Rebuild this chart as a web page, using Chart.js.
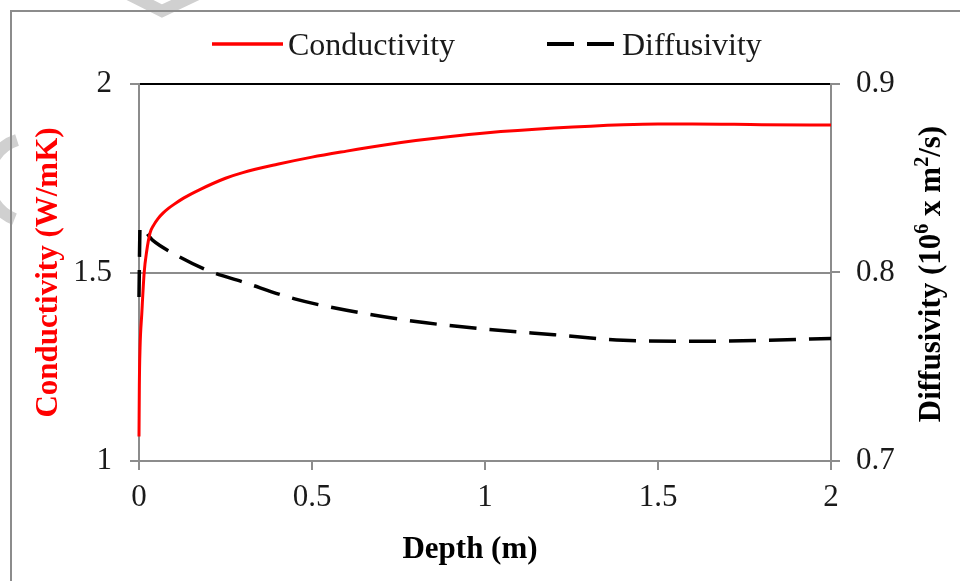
<!DOCTYPE html>
<html>
<head>
  <title>Conductivity and Diffusivity vs Depth</title>
  <script src="https://cdn.jsdelivr.net/npm/chart.js"></script>
  <style>
    html, body { margin: 0; padding: 0; background: #fff; }
  </style>
</head>
<body>
  <canvas id="myChart" width="960" height="581"></canvas>
  <script>
    // conductivity profile (W/mK) against depth (m)
    const depthCond = [0, 0.001, 0.003, 0.008, 0.015, 0.022, 0.032, 0.042, 0.055, 0.07, 0.085, 0.1, 0.13, 0.176, 0.25, 0.3, 0.4, 0.5, 0.6, 0.7, 0.8, 0.9, 1.0, 1.2, 1.4, 1.5, 1.6, 1.8, 2.0];
    const conductivity = [1.065, 1.2, 1.3, 1.39, 1.5, 1.555, 1.605, 1.625, 1.643, 1.658, 1.67, 1.68, 1.698, 1.72, 1.75, 1.765, 1.787, 1.806, 1.822, 1.837, 1.85, 1.861, 1.87, 1.883, 1.892, 1.894, 1.894, 1.892, 1.891];

    // diffusivity profile (10^6 x m2/s) against depth (m)
    const depthDiff = [0, 0.003, 0.04, 0.1, 0.2, 0.3, 0.45, 0.6, 0.8, 1.0, 1.2, 1.4, 1.6, 1.8, 2.0];
    const diffusivity = [0.787, 0.824, 0.817, 0.81, 0.801, 0.795, 0.786, 0.78, 0.774, 0.77, 0.767, 0.764, 0.7635, 0.764, 0.765];

    const depthTicks = [0, 0.5, 1, 1.5, 2];
    const condTicks = [1, 1.5, 2];
    const diffTicks = [0.7, 0.8, 0.9];

    const serif = "'Liberation Serif', 'Times New Roman', serif";
    const axisGrey = '#8c8c8c';
    const textColor = '#1a1a1a';

    const toPoints = (xs, ys) => xs.map((x, i) => ({ x: x, y: ys[i] }));
    const fixedTicks = list => scale => { scale.ticks = list.map(v => ({ value: v })); };

    // frame, hand-drawn legend and the captions Chart.js can't place the same way
    const decorations = {
      id: 'decorations',
      beforeDraw(chart) {
        const ctx = chart.ctx;
        ctx.save();
        ctx.fillStyle = '#fff';
        ctx.fillRect(0, 0, chart.width, chart.height);
        // faint grey marks along the page edge
        ctx.strokeStyle = '#d0d0d0';
        ctx.lineWidth = 12;
        ctx.beginPath();
        ctx.moveTo(128, -6); ctx.lineTo(162, 11); ctx.lineTo(198, -6);
        ctx.stroke();
        ctx.beginPath();
        ctx.arc(30, 180, 42, 0.62 * Math.PI, 1.4 * Math.PI);
        ctx.stroke();
        // outer chart frame
        ctx.strokeStyle = axisGrey;
        ctx.lineWidth = 2;
        ctx.strokeRect(11, 11, chart.width + 20, chart.height + 20);
        ctx.restore();
      },
      afterDraw(chart) {
        const ctx = chart.ctx;
        ctx.save();

        // legend
        const slots = [{ x: 212, w: 71 }, { x: 547, w: 70 }];
        ctx.font = '32px ' + serif;
        ctx.textBaseline = 'alphabetic';
        chart.data.datasets.forEach((ds, i) => {
          const s = slots[i];
          ctx.strokeStyle = ds.borderColor;
          ctx.lineWidth = ds.borderWidth + 0.5;
          ctx.setLineDash(ds.borderDash || []);
          ctx.beginPath();
          ctx.moveTo(s.x, 44);
          ctx.lineTo(s.x + s.w, 44);
          ctx.stroke();
          ctx.setLineDash([]);
          ctx.fillStyle = textColor;
          ctx.fillText(ds.label, s.x + s.w + 5, 55);
        });

        // x axis caption
        ctx.font = 'bold 31px ' + serif;
        ctx.fillStyle = '#000';
        ctx.textAlign = 'center';
        ctx.fillText('Depth (m)', 470, 558);

        // right axis caption, read bottom to top, with superscripts
        const parts = [['Diffusivity (10', false], ['6', true], [' x m', false], ['2', true], ['/s)', false]];
        const big = 'bold 31px ' + serif;
        const small = 'bold 20px ' + serif;
        let total = 0;
        parts.forEach(p => { ctx.font = p[1] ? small : big; total += ctx.measureText(p[0]).width; });
        ctx.translate(940, 274);
        ctx.rotate(-Math.PI / 2);
        ctx.textAlign = 'left';
        let x = -total / 2;
        parts.forEach(p => {
          ctx.font = p[1] ? small : big;
          ctx.fillText(p[0], x, p[1] ? -12 : 0);
          x += ctx.measureText(p[0]).width;
        });
        ctx.restore();
      }
    };

    const chartConfig = {
      type: 'line',
      data: {
        datasets: [
          {
            label: 'Conductivity',
            data: toPoints(depthCond, conductivity),
            yAxisID: 'y',
            borderColor: '#ff0000',
            borderWidth: 3,
            pointRadius: 0,
            cubicInterpolationMode: 'monotone',
            clip: 4
          },
          {
            label: 'Diffusivity',
            data: toPoints(depthDiff, diffusivity),
            yAxisID: 'y1',
            borderColor: '#000000',
            borderWidth: 3.5,
            borderDash: [27, 13],
            pointRadius: 0,
            cubicInterpolationMode: 'monotone',
            clip: 4
          }
        ]
      },
      options: {
        responsive: false,
        animation: false,
        devicePixelRatio: 1,
        layout: { padding: { top: 84, left: 0, right: 0, bottom: 0 } },
        plugins: {
          legend: { display: false },
          tooltip: { enabled: false }
        },
        scales: {
          x: {
            type: 'linear',
            min: 0,
            max: 2,
            afterBuildTicks: fixedTicks(depthTicks),
            afterFit: scale => { scale.height = 120; },
            grid: { drawOnChartArea: false, color: axisGrey, lineWidth: 2, tickLength: 9 },
            border: { color: axisGrey, width: 2 },
            ticks: {
              padding: 9,
              color: textColor,
              font: { family: serif, size: 31 },
              callback: v => String(v)
            }
          },
          y: {
            position: 'left',
            min: 1,
            max: 2,
            afterBuildTicks: fixedTicks(condTicks),
            afterFit: scale => { scale.width = 139; },
            grid: {
              color: ctx => (ctx.tick && ctx.tick.value === 2 ? '#000' : axisGrey),
              tickColor: axisGrey,
              lineWidth: 2,
              tickLength: 9
            },
            border: { color: axisGrey, width: 2 },
            ticks: {
              padding: 18,
              color: textColor,
              font: { family: serif, size: 31 },
              callback: v => String(v)
            },
            title: {
              display: true,
              text: 'Conductivity (W/mK)',
              color: '#ff0000',
              font: { family: serif, size: 31, weight: 'bold' },
              padding: { top: 30, bottom: 0 }
            }
          },
          y1: {
            position: 'right',
            min: 0.7,
            max: 0.9,
            afterBuildTicks: fixedTicks(diffTicks),
            afterFit: scale => { scale.width = 129; },
            grid: { drawOnChartArea: false, color: axisGrey, lineWidth: 2, tickLength: 9 },
            border: { color: axisGrey, width: 2 },
            ticks: {
              padding: 16,
              color: textColor,
              font: { family: serif, size: 31 },
              callback: v => String(v)
            }
          }
        }
      },
      plugins: [decorations]
    };

    const myChart = new Chart(document.getElementById('myChart'), chartConfig);
  </script>
</body>
</html>
